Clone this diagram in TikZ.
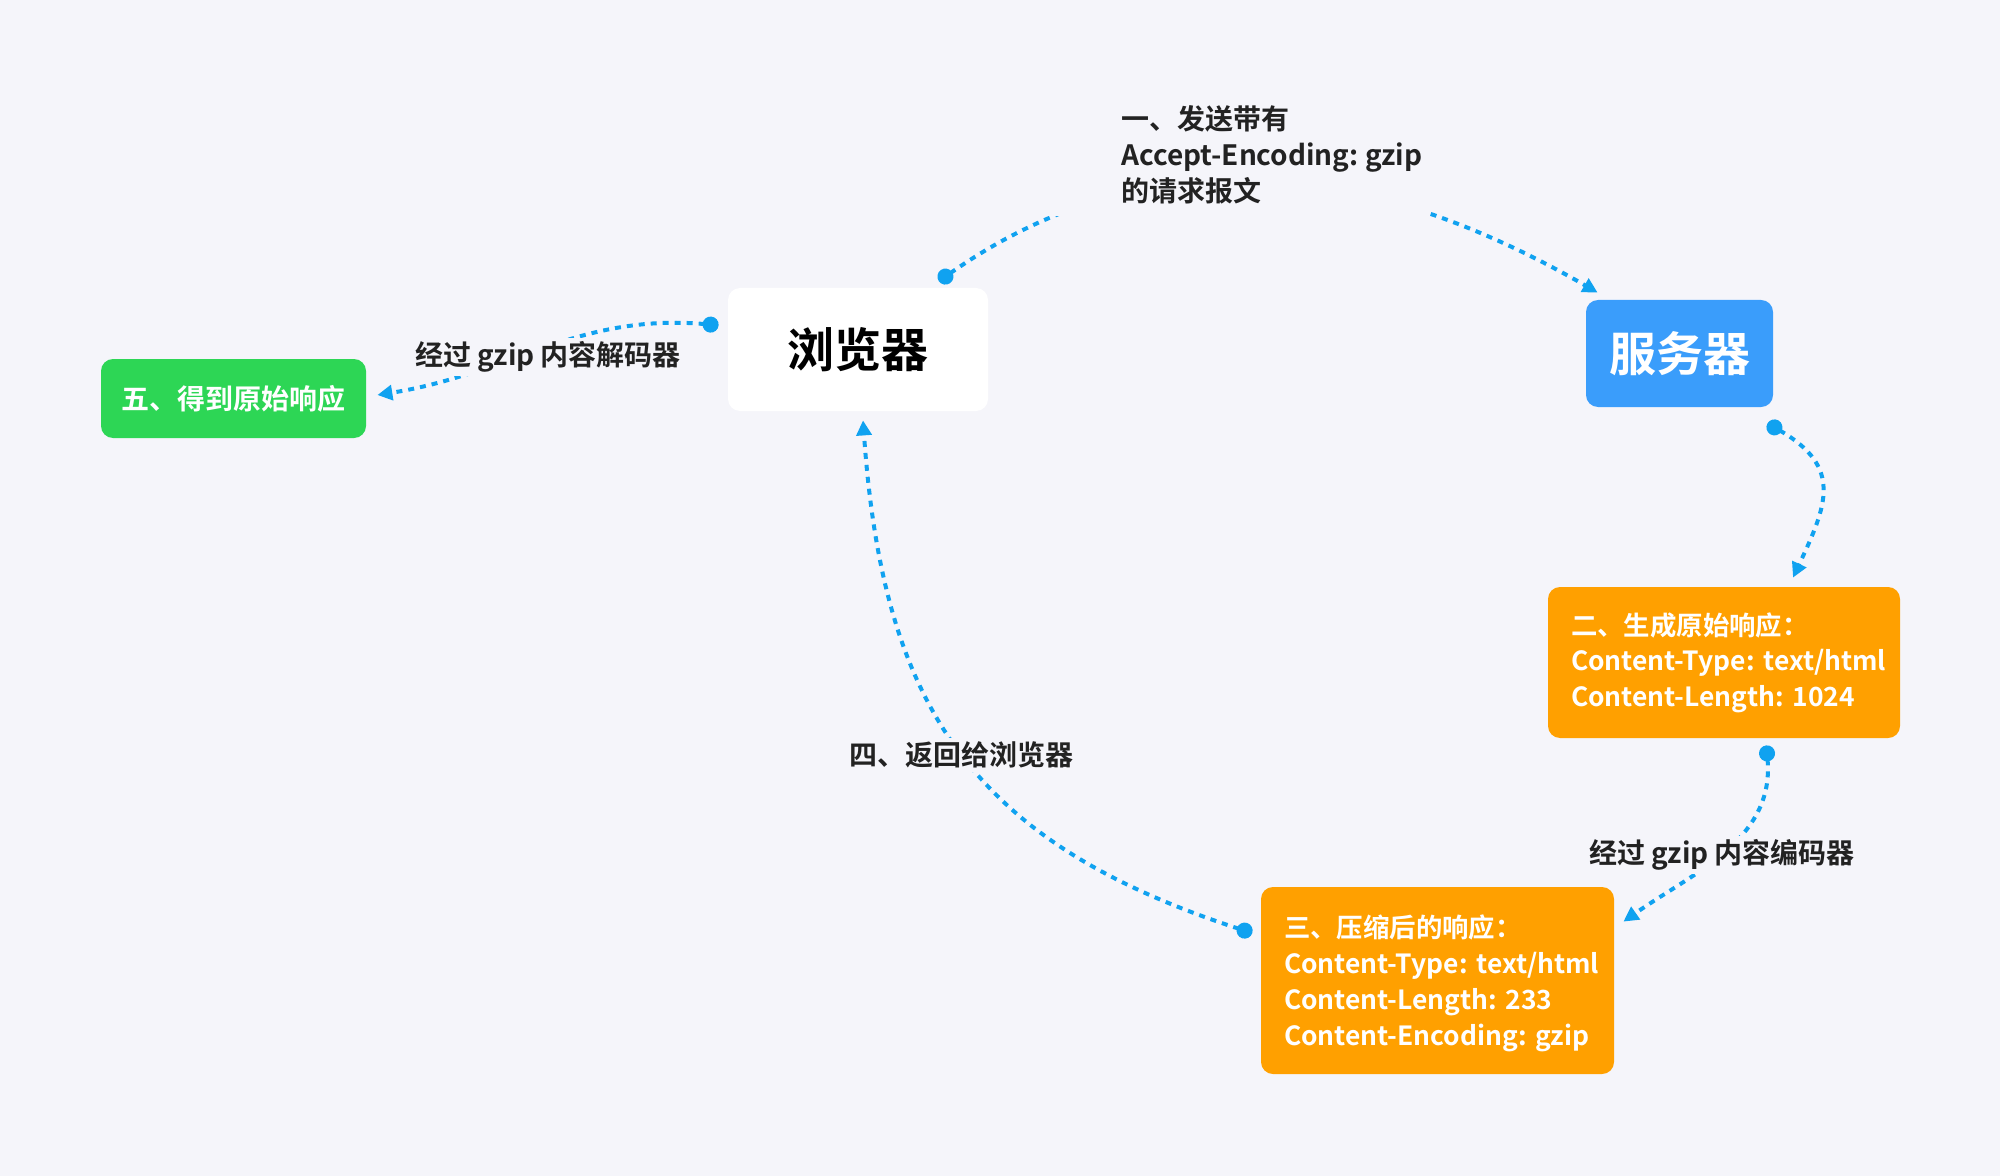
\documentclass[tikz,border=0pt]{standalone}
\usepackage{fontspec}
\setmainfont{Noto Sans CJK SC}[BoldFont={Noto Sans CJK SC Bold}]
\usetikzlibrary{arrows.meta,calc}
\definecolor{bg}{HTML}{F5F5FA}
\definecolor{conncol}{HTML}{10A2F0}
\definecolor{bluebox}{HTML}{3A9DFB}
\definecolor{greenbox}{HTML}{2DD655}
\definecolor{orangebox}{HTML}{FFA000}
\definecolor{darktext}{HTML}{222222}
\frenchspacing
\begin{document}
\begin{tikzpicture}[x=0.5pt,y=0.5pt,
  box/.style={rounded corners=6pt, inner sep=0pt},
  bigtext/.style={font=\bfseries\fontsize{23.5pt}{28pt}\selectfont},
  respbox/.style={box, fill=orangebox, text=white, align=left, inner xsep=11.5pt},
  lbl/.style={fill=bg, inner sep=2pt, text=darktext, font=\bfseries\fontsize{14pt}{18pt}\selectfont},
  conn/.style={draw=conncol, line width=2pt, dash pattern=on 3pt off 3pt, shorten <=-4pt,
    {Circle[length=8pt]}-{Triangle[length=7.5pt,width=7.5pt]}}
]
\fill[bg] (0,0) rectangle (2000,-1176);
\useasboundingbox (0,0) rectangle (2000,-1176);

% boxes
\node[box, bigtext, fill=white, text=black, minimum width=130pt, minimum height=61.5pt] (browser) at (858,-349.5) {浏览器};
\node[box, bigtext, fill=bluebox, text=white, minimum width=93.5pt, minimum height=53.5pt] (server) at (1679.5,-353.5) {服务器};
\node[box, fill=greenbox, text=white, font=\bfseries\fontsize{14pt}{18pt}\selectfont, minimum width=132.5pt, minimum height=39.5pt] (done) at (233.5,-398.5) {五、得到原始响应};
\node[respbox, font=\bfseries\fontsize{13.2pt}{17.75pt}\selectfont, text width=153pt, minimum height=75.5pt] (resp1) at (1724,-662.5)
  {\mbox{二、生成原始响应：}\\\mbox{Content-Type: text/html}\\\mbox{Content-Length: 1024}};
\node[respbox, font=\bfseries\fontsize{13.2pt}{18pt}\selectfont, text width=153.5pt, minimum height=93.5pt] (resp2) at (1437.5,-980.5)
  {\mbox{三、压缩后的响应：}\\\mbox{Content-Type: text/html}\\\mbox{Content-Length: 233}\\\raisebox{0pt}[\height][0pt]{\mbox{Content-Encoding: gzip}}};

% connector end points
\coordinate (c1s) at ($(browser.north east)+(-43,11)$);
\coordinate (c1e) at ($(server.north west)+(12,7)$);
\coordinate (c2s) at ($(server.south east)+(1,-20)$);
\coordinate (c2e) at ($(resp1.north)+(69,9)$);
\coordinate (c3s) at ($(resp1.south)+(43,-15)$);
\coordinate (c3e) at ($(resp2.north east)+(9,-35)$);
\coordinate (c4s) at ($(resp2.north west)+(-16,-44)$);
\coordinate (c4e) at ($(browser.south)+(5,-9)$);
\coordinate (c5s) at ($(browser.north west)+(-17,-37)$);
\coordinate (c5e) at ($(done.east)+(11,3.5)$);

% connectors
\draw[conn] (c1s) to[out=35,in=150] (c1e);
\draw[conn] (c2s) to[out=-30,in=65,looseness=1.35] (c2e);
\draw[conn] (c3s) to[out=-85,in=35] (c3e);
\draw[conn] (c4s) to[out=162,in=-86,looseness=1.15] (c4e);
\draw[conn] (c5s) to[out=175,in=9] (c5e);

% labels
\node[lbl, inner xsep=0pt, anchor=west] (lbl1) at (1045,-158) {\hspace*{38pt}\begin{tabular}{@{}l@{}}一、发送带有\\Accept-Encoding: gzip\\的请求报文\end{tabular}\hspace*{3pt}};
\node[lbl] (lbl3) at (1722,-855) {经过 gzip 内容编码器};
\node[lbl] (lbl4) at (961,-755) {四、返回给浏览器};
\node[lbl] (lbl5) at (548,-357) {经过 gzip 内容解码器};
\end{tikzpicture}
\end{document}
